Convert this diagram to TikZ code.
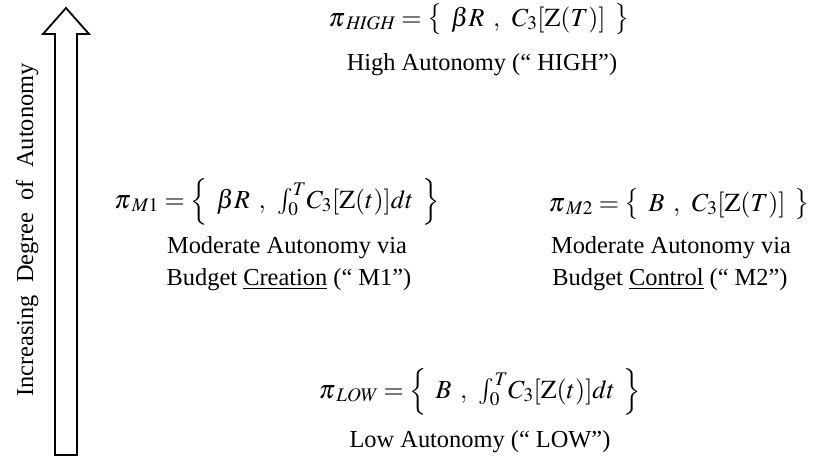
\documentclass[tikz,border=0pt]{standalone}
\usepackage{mathptmx}
\usepackage{fontspec}
\setmainfont{Liberation Serif}
\newcommand{\sep}{\mkern6mu}
\tikzset{
  lbl/.style={anchor=base, inner sep=0pt, font=\fontsize{24.4}{32}\selectfont},
  fml/.style={anchor=base, inner sep=0pt, font=\fontsize{26}{32}\selectfont},
  bigarrow/.style={draw=black, line width=1.8pt, fill=white, line join=miter}
}
\begin{document}
\begin{tikzpicture}[x=1pt,y=-1pt]
\useasboundingbox (0,0) rectangle (813,464);
% block arrow
\draw[bigarrow] (55,455) -- (55,34) -- (43,34) -- (66,8) -- (89,34) -- (77,34) -- (77,455) -- cycle;
\node[lbl, rotate=90] (axis) at (33,230) {Increasing\ \ Degree\ \ of\ \ Autonomy};
% HIGH
\node[fml] (fhigh) at (479,26) {$\pi_{\mkern3mu\mathit{HIGH}} = \bigl\{\sep\beta R\sep,\sep C_3[\mathrm{Z}(T)]\sep\bigr\}$};
\node[lbl] (thigh) at (482,70) {High Autonomy (“ HIGH”)};
% M1
\node[fml] (fm1) at (277,208) {$\pi_{\mkern3mu M1} = \Bigl\{\sep\beta R\sep,\sep\int_0^T\! C_3[\mathrm{Z}(t)]dt\sep\Bigr\}$};
\node[lbl] (tm1a) at (287,253) {Moderate Autonomy via};
\node[lbl] (tm1b) at (289,285) {Budget \underline{Creation} (“ M1”)};
% M2
\node[fml] (fm2) at (679,211) {$\pi_{\mkern3mu M2} = \bigl\{\sep B\sep,\sep C_3[\mathrm{Z}(T)]\sep\bigr\}$};
\node[lbl] (tm2a) at (671,253) {Moderate Autonomy via};
\node[lbl] (tm2b) at (670,285) {Budget \underline{Control} (“ M2”)};
% LOW
\node[fml] (flow) at (480,398) {$\pi_{\mkern3mu\mathit{LOW}} = \Bigl\{\sep B\sep,\sep\int_0^T\! C_3[\mathrm{Z}(t)]dt\sep\Bigr\}$};
\node[lbl] (tlow) at (480,447) {Low Autonomy (“ LOW”)};
\end{tikzpicture}
\end{document}
